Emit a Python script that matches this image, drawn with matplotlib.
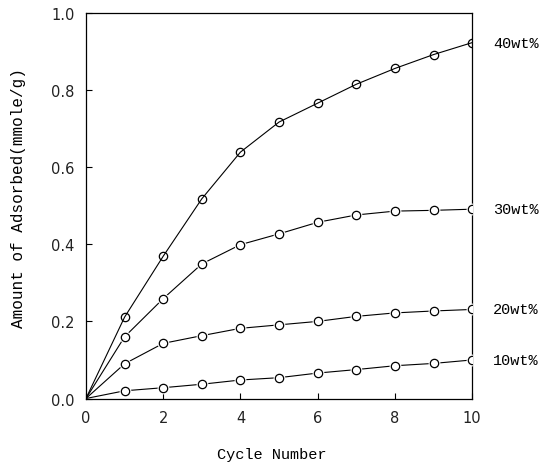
import matplotlib
matplotlib.use("Agg")
import matplotlib.pyplot as plt

# cycle number 0..10 (0 = start, no marker)
cycles = [0, 1, 2, 3, 4, 5, 6, 7, 8, 9, 10]

# amount adsorbed (mmole/g)
wt40 = [0.0, 0.211, 0.369, 0.518, 0.639, 0.717, 0.766, 0.815, 0.856, 0.892, 0.923]
wt30 = [0.0, 0.160, 0.259, 0.349, 0.399, 0.427, 0.457, 0.476, 0.486, 0.488, 0.491]
wt20 = [0.0, 0.090, 0.143, 0.163, 0.182, 0.191, 0.200, 0.213, 0.222, 0.227, 0.231]
wt10 = [0.0, 0.020, 0.028, 0.037, 0.048, 0.054, 0.066, 0.075, 0.085, 0.091, 0.100]

labels = ["40wt%", "30wt%", "20wt%", "10wt%"]
series = [wt40, wt30, wt20, wt10]

x_ticks = [0, 2, 4, 6, 8, 10]
y_ticks = [0.0, 0.2, 0.4, 0.6, 0.8, 1.0]

label_font = "Liberation Mono"

fig = plt.figure(figsize=(5.44, 4.64), dpi=100)
ax = fig.add_axes([0.158, 0.139, 0.710, 0.831])

for i, (ys, lab) in enumerate(zip(series, labels)):
    ax.plot(cycles, ys, color="black", lw=0.8, zorder=2)
    if i == 0:
        # 40wt%: line runs through the circles
        ax.plot(cycles[1:], ys[1:], ls="none", marker="o", ms=6,
                mfc="none", mec="black", mew=0.9, zorder=4)
    else:
        # other curves: small gap around every circle
        ax.plot(cycles[1:], ys[1:], ls="none", marker="o", ms=8.5,
                mfc="white", mec="none", zorder=3)
        ax.plot(cycles[1:], ys[1:], ls="none", marker="o", ms=6,
                mfc="white", mec="black", mew=0.9, zorder=4)
    ax.annotate(lab, xy=(1.0, ys[-1]), xycoords=("axes fraction", "data"),
                xytext=(15, 0), textcoords="offset points",
                ha="left", va="center", fontsize=11, family=label_font)

ax.set_xlim(0, 10)
ax.set_ylim(0, 1.0)
ax.set_xticks(x_ticks)
ax.set_yticks(y_ticks)
ax.set_xticklabels([str(v) for v in x_ticks])
ax.set_yticklabels([f"{v:.1f}" for v in y_ticks])
ax.tick_params(direction="in", length=4, width=0.8, labelsize=10.5,
               top=False, right=False, pad=8, labelcolor="#222222")
for s in ax.spines.values():
    s.set_linewidth(0.9)

ax.set_xlabel("Cycle Number", fontsize=11, family=label_font, labelpad=16)
ax.set_ylabel("Amount of Adsorbed(mmole/g)", fontsize=11.5, family=label_font,
              labelpad=18)
# labels sit a bit off-centre in the original
ax.xaxis.label.set_x(0.482)
ax.yaxis.label.set_y(0.523)

fig.savefig("out.png", dpi=100)
